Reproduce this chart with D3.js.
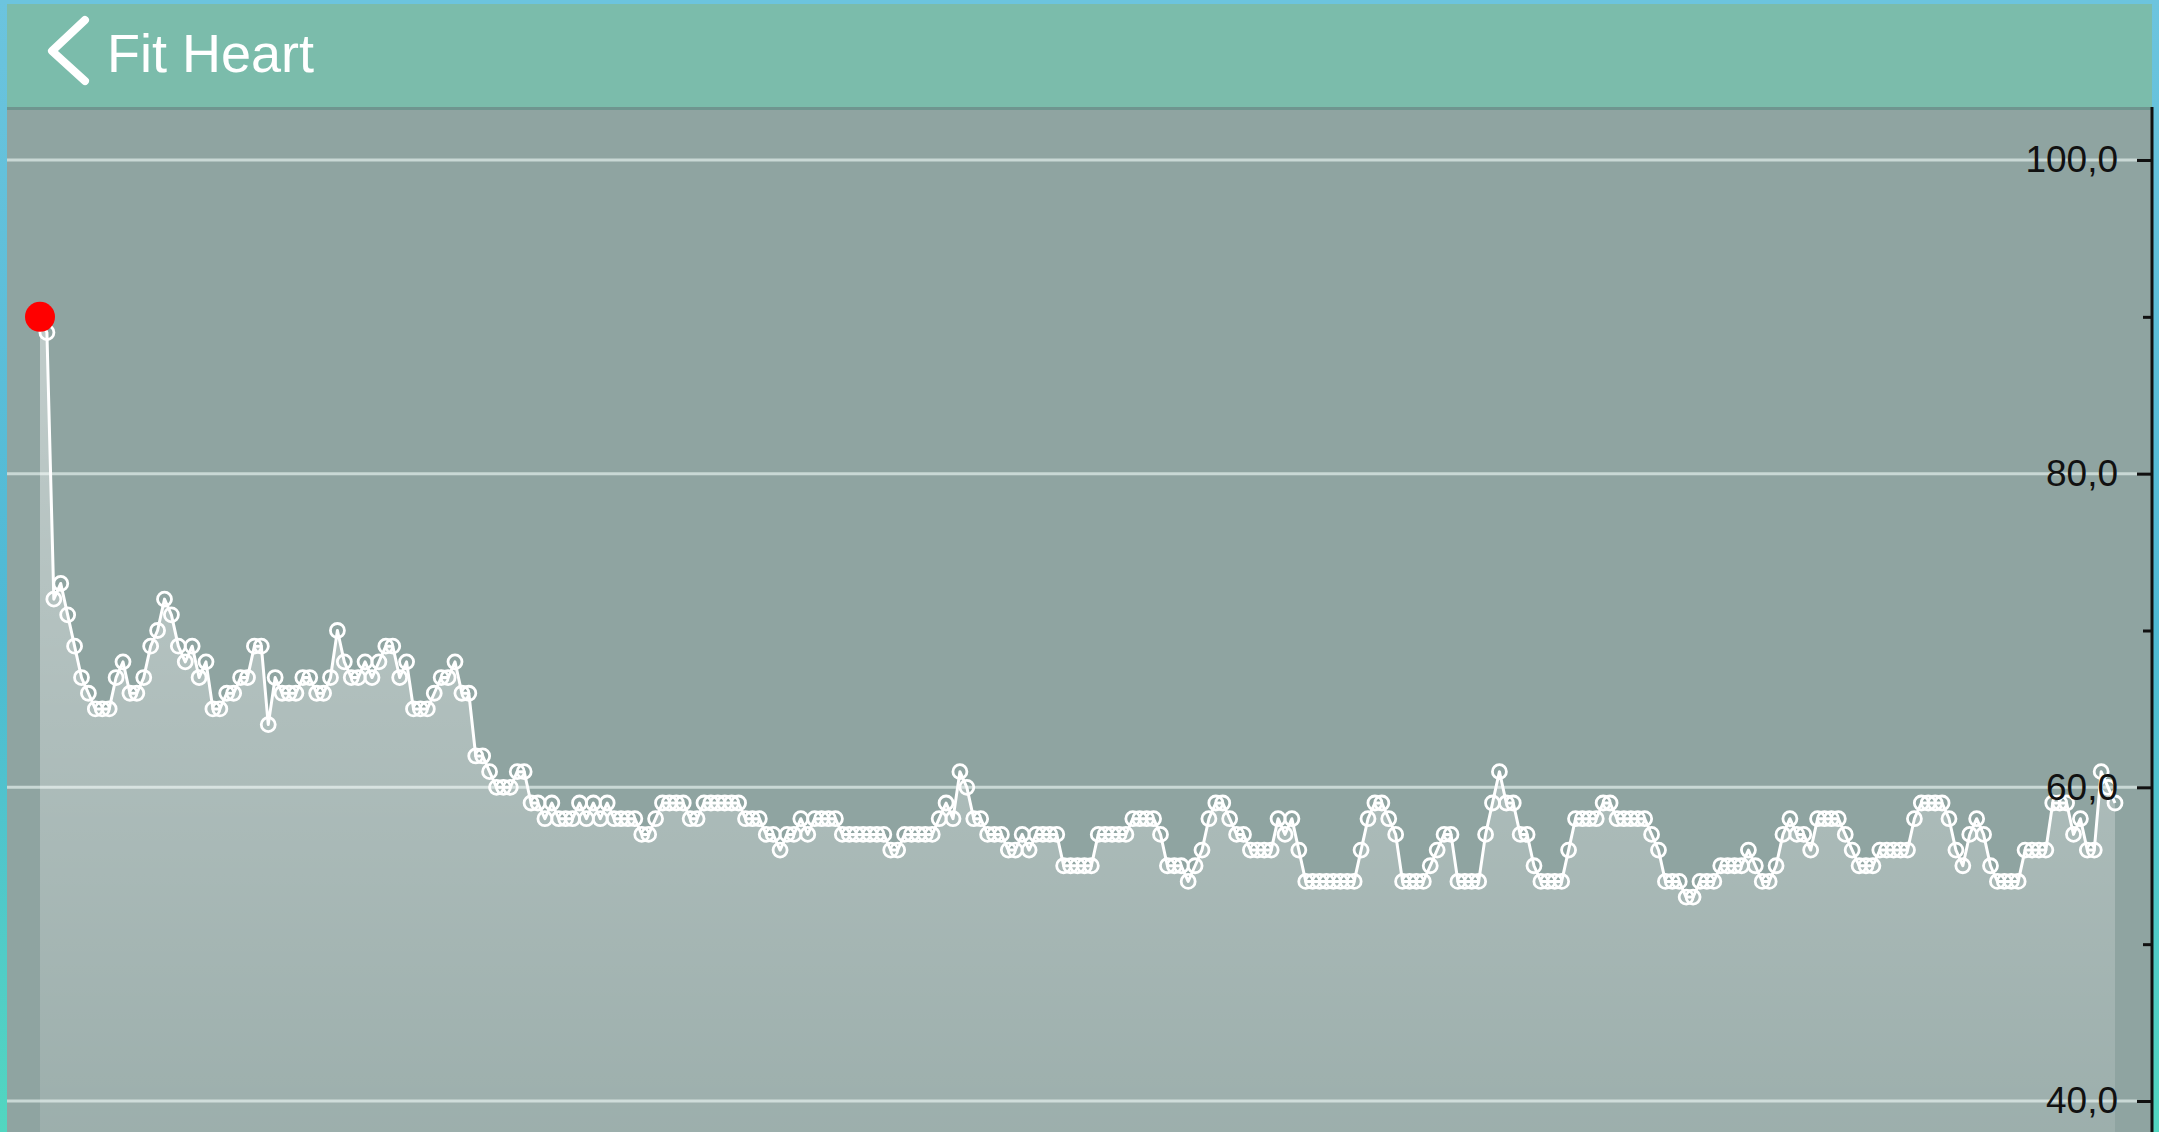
<!DOCTYPE html>
<html>
<head>
<meta charset="utf-8">
<script src="https://cdn.jsdelivr.net/npm/d3@7"></script>
<style>
	html, body { margin: 0; padding: 0; background: #6cc4de; overflow: hidden; }
	svg { display: block; }
</style>
</head>
<body>
<div id="fit_heart_chart"></div>
<script>
// Heart rate samples (bpm), read left to right off the screen
const heartRate = [
	90, 89, 72, 73, 71, 69, 67, 66, 65, 65, 65, 67, 68, 66, 66, 67, 69, 70, 72, 71,
	69, 68, 69, 67, 68, 65, 65, 66, 66, 67, 67, 69, 69, 64, 67, 66, 66, 66, 67, 67,
	66, 66, 67, 70, 68, 67, 67, 68, 67, 68, 69, 69, 67, 68, 65, 65, 65, 66, 67, 67,
	68, 66, 66, 62, 62, 61, 60, 60, 60, 61, 61,
	59, 59, 58, 59, 58, 58, 58, 59, 58, 59, 58, 59,
	58, 58, 58, 58, 57, 57, 58, 59, 59, 59, 59, 58, 58, 59, 59, 59, 59, 59, 59, 58,
	58, 58, 57, 57, 56, 57, 57, 58, 57, 58, 58, 58, 58, 57, 57, 57, 57, 57, 57, 57,
	56, 56, 57, 57, 57, 57, 57,
	58, 59, 58, 61, 60, 58, 58, 57, 57, 57, 56, 56, 57, 56, 57, 57, 57, 57, 55, 55,
	55, 55, 55, 57, 57, 57, 57, 57, 58, 58, 58, 58, 57, 55, 55, 55, 54, 55, 56, 58,
	59, 59, 58, 57, 57, 56, 56, 56, 56, 58, 57, 58, 56, 54, 54, 54, 54, 54, 54, 54,
	54, 56, 58, 59, 59, 58, 57, 54, 54, 54, 54, 55, 56, 57, 57, 54, 54, 54, 54, 57,
	59, 61, 59, 59,
	57, 57, 55, 54, 54, 54, 54, 56, 58, 58, 58, 58, 59, 59, 58, 58, 58, 58, 58, 57,
	56, 54, 54, 54, 53, 53, 54, 54, 54, 55, 55, 55, 55, 56, 55, 54, 54, 55, 57, 58,
	57, 57, 56, 58, 58, 58, 58, 57, 56, 55, 55, 55, 56, 56, 56, 56, 56, 58, 59, 59,
	59, 59, 58, 56, 55, 57, 58, 57, 55, 54, 54, 54, 54, 56, 56, 56, 56, 59, 59, 59,
	57, 58, 56, 56, 61, 60, 59
];

// Right axis
const majorTicks = [40, 60, 80, 100];
const minorTicks = [50, 70, 90];
const yDomain = [40, 100];

// Index of the highlighted (red) sample
const highlightIndex = 0;

const TITLE = "Fit Heart";

(function () {
	const width = 2159;
	const height = 1132;

	// Colors
	const HEADER = "#7bbcab";
	const HEADER_EDGE = "#6f958f";
	const PLOT_BG = "#8fa4a1";
	const GRID = "#c9d8d5";
	const RED = "#ff0000";

	// Frame around the screen
	const frame = { left: 7, top: 4, right: 7 };
	const headerBottom = 107;
	const plotTop = 110;
	const axisX = width - frame.right;

	const svg = d3
		.select("#fit_heart_chart")
		.append("svg")
		.attr("width", width)
		.attr("height", height);

	const defs = svg.append("defs");

	const frameGrad = defs.append("linearGradient").attr("id", "frameGrad").attr("x1", 0).attr("y1", 0).attr("x2", 0).attr("y2", 1);
	frameGrad.append("stop").attr("offset", "0%").attr("stop-color", "#6cc4de");
	frameGrad.append("stop").attr("offset", "55%").attr("stop-color", "#4fb9d4");
	frameGrad.append("stop").attr("offset", "100%").attr("stop-color", "#52d6c0");

	const fillGrad = defs
		.append("linearGradient")
		.attr("id", "fillGrad")
		.attr("gradientUnits", "userSpaceOnUse")
		.attr("x1", 0).attr("y1", 380)
		.attr("x2", 0).attr("y2", height);
	fillGrad.append("stop").attr("offset", "0%").attr("stop-color", "#fff").attr("stop-opacity", 0.42);
	fillGrad.append("stop").attr("offset", "100%").attr("stop-color", "#fff").attr("stop-opacity", 0.12);

	// Outer frame + header + plot background
	svg.append("rect").attr("width", width).attr("height", height).attr("fill", "url(#frameGrad)");
	svg.append("rect").attr("x", 0).attr("y", 0).attr("width", width).attr("height", frame.top).attr("fill", "#6cc4de");
	svg
		.append("rect")
		.attr("x", frame.left)
		.attr("y", frame.top)
		.attr("width", axisX - frame.left)
		.attr("height", headerBottom - frame.top)
		.attr("fill", HEADER);
	svg
		.append("rect")
		.attr("x", frame.left)
		.attr("y", headerBottom)
		.attr("width", axisX - frame.left)
		.attr("height", plotTop - headerBottom)
		.attr("fill", HEADER_EDGE);
	svg
		.append("rect")
		.attr("x", frame.left)
		.attr("y", plotTop)
		.attr("width", axisX - frame.left)
		.attr("height", height - plotTop)
		.attr("fill", PLOT_BG);

	// Header: back chevron + title
	svg
		.append("path")
		.attr("d", "M85,20 L52,51 L85,81")
		.attr("fill", "none")
		.attr("stroke", "#fff")
		.attr("stroke-width", 8)
		.attr("stroke-linecap", "round")
		.attr("stroke-linejoin", "round");
	svg
		.append("text")
		.attr("x", 107)
		.attr("y", 72)
		.style("font-family", "'Liberation Sans', Arial, sans-serif")
		.style("font-size", "54px")
		.style("fill", "#fff")
		.text(TITLE);

	// Scales
	const x = d3.scaleLinear().domain([0, heartRate.length - 1]).range([40, 2115]);
	const y = d3.scaleLinear().domain(yDomain).range([1101, 160]);

	const fmt = v => v.toFixed(1).replace(".", ",");

	// Grid lines
	svg
		.append("g")
		.selectAll("line")
		.data(majorTicks)
		.join("line")
		.attr("x1", frame.left)
		.attr("x2", axisX - 15)
		.attr("y1", d => y(d))
		.attr("y2", d => y(d))
		.attr("stroke", GRID)
		.attr("stroke-width", 3);

	// Area + line
	const area = d3
		.area()
		.x((d, i) => x(i))
		.y0(height)
		.y1(d => y(d));
	const line = d3
		.line()
		.x((d, i) => x(i))
		.y(d => y(d));

	svg.append("path").datum(heartRate).attr("d", area).attr("fill", "url(#fillGrad)");
	svg
		.append("path")
		.datum(heartRate)
		.attr("d", line)
		.attr("fill", "none")
		.attr("stroke", "#fff")
		.attr("stroke-width", 3)
		.attr("stroke-linejoin", "round");

	svg
		.append("g")
		.selectAll("circle")
		.data(heartRate.map((v, i) => ({ v, i })).filter(d => d.i !== highlightIndex))
		.join("circle")
		.attr("cx", d => x(d.i))
		.attr("cy", d => y(d.v))
		.attr("r", 7)
		.attr("fill", "none")
		.attr("stroke", "#fff")
		.attr("stroke-width", 2.8);

	svg
		.append("circle")
		.attr("cx", x(highlightIndex))
		.attr("cy", y(heartRate[highlightIndex]))
		.attr("r", 15)
		.attr("fill", RED);

	// Right axis (ticks point inward, labels to the left)
	const axisG = svg.append("g").attr("transform", `translate(${axisX}, 0)`);
	axisG
		.call(d3.axisLeft(y).tickValues(majorTicks).tickSize(15).tickPadding(19).tickFormat(fmt))
		.call(g => g.select(".domain").remove());
	axisG.selectAll(".tick line").attr("stroke", "#111").attr("stroke-width", 3);
	axisG
		.selectAll(".tick text")
		.style("font-family", "'Liberation Sans', Arial, sans-serif")
		.style("font-size", "37px")
		.style("fill", "#111");

	const minorG = svg.append("g").attr("transform", `translate(${axisX}, 0)`);
	minorG
		.call(d3.axisLeft(y).tickValues(minorTicks).tickSize(9).tickFormat(""))
		.call(g => g.select(".domain").remove());
	minorG.selectAll(".tick line").attr("stroke", "#111").attr("stroke-width", 3);

	svg
		.append("line")
		.attr("x1", axisX)
		.attr("x2", axisX)
		.attr("y1", plotTop - 3)
		.attr("y2", height)
		.attr("stroke", "#111")
		.attr("stroke-width", 3);
})();
</script>
</body>
</html>
